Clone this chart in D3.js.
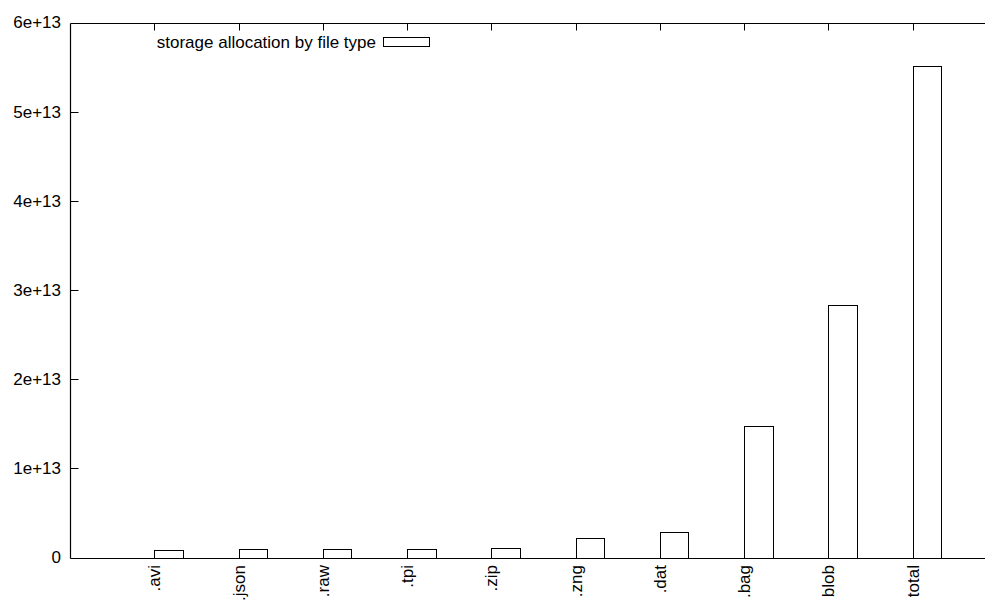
<!DOCTYPE html>
<html>
<head>
<meta charset="utf-8">
<script src="https://cdn.jsdelivr.net/npm/d3@7"></script>
<style>
  html, body { margin: 0; padding: 0; background: #fff; }
  svg { display: block; }
  text { font-family: "Liberation Sans", Arial, sans-serif; fill: #000; }
</style>
</head>
<body>
<svg id="chart" width="985" height="601"></svg>
<script>
// File types and the bytes allocated to each
const categories = [".avi", ".json", ".raw", ".tpi", ".zip", ".zng", ".dat", ".bag", "blob", "total"];
const bytes = [8.1e11, 9.2e11, 9.9e11, 9.9e11, 1.03e12, 2.15e12, 2.83e12, 1.475e13, 2.83e13, 5.51e13];
const yTicks = [0, 1e13, 2e13, 3e13, 4e13, 5e13, 6e13];
const yTickLabels = ["0", "1e+13", "2e+13", "3e+13", "4e+13", "5e+13", "6e+13"];
const legendLabel = "storage allocation by file type";

const svg = d3.select("#chart");
const plotLeft = 70, plotTop = 22.5, plotBottom = 557.5;
const unit = 84.25;
const boxWidth = 0.34;
const fontSize = 17;

// x axis runs from -1 to 11 in category units; the right end runs past the canvas
const x = d3.scaleLinear().domain([-1, 11]).range([plotLeft, plotLeft + 12 * unit]);
const y = d3.scaleLinear().domain([0, 6e13]).range([plotBottom, plotTop]);

const snap = v => Math.round(v) + 0.5;

// bars
svg.append("g").selectAll("rect")
  .data(bytes)
  .join("rect")
  .attr("x", (d, i) => snap(x(i)))
  .attr("y", d => snap(y(d)))
  .attr("width", (d, i) => Math.round(x(i + boxWidth)) - Math.round(x(i)))
  .attr("height", d => snap(y(0)) - snap(y(d)))
  .attr("fill", "none")
  .attr("stroke", "#000")
  .attr("stroke-width", 1);

// frame: left, bottom and top borders
const frame = svg.append("g").attr("stroke", "#000").attr("stroke-width", 1.2);
frame.append("line").attr("x1", snap(plotLeft)).attr("x2", snap(plotLeft)).attr("y1", snap(plotTop)).attr("y2", snap(plotBottom));
frame.append("line").attr("x1", snap(plotLeft)).attr("x2", 985).attr("y1", snap(plotBottom)).attr("y2", snap(plotBottom));
frame.append("line").attr("x1", snap(plotLeft)).attr("x2", 985).attr("y1", snap(plotTop)).attr("y2", snap(plotTop));

// y ticks (inward) and labels
const yAxis = svg.append("g");
yAxis.selectAll("line")
  .data(yTicks.slice(1, -1))
  .join("line")
  .attr("x1", snap(plotLeft)).attr("x2", snap(plotLeft) + 8)
  .attr("y1", d => snap(y(d))).attr("y2", d => snap(y(d)))
  .attr("stroke", "#000");
yAxis.selectAll("text")
  .data(yTicks)
  .join("text")
  .attr("x", 61)
  .attr("y", d => y(d))
  .attr("dy", "0.35em")
  .attr("text-anchor", "end")
  .attr("font-size", fontSize)
  .text((d, i) => yTickLabels[i]);

// x ticks: inward on bottom, mirrored on top
const xAxis = svg.append("g");
xAxis.selectAll("line.b")
  .data(categories)
  .join("line")
  .attr("class", "b")
  .attr("x1", (d, i) => snap(x(i))).attr("x2", (d, i) => snap(x(i)))
  .attr("y1", snap(plotBottom)).attr("y2", snap(plotBottom) - 7)
  .attr("stroke", "#000");
xAxis.selectAll("line.t")
  .data(categories)
  .join("line")
  .attr("class", "t")
  .attr("x1", (d, i) => snap(x(i))).attr("x2", (d, i) => snap(x(i)))
  .attr("y1", snap(plotTop)).attr("y2", snap(plotTop) + 7)
  .attr("stroke", "#000");
xAxis.selectAll("text")
  .data(categories)
  .join("text")
  .attr("transform", (d, i) => `translate(${x(i) + 6},565) rotate(-90)`)
  .attr("text-anchor", "end")
  .attr("font-size", fontSize)
  .text(d => d);

// legend
const legend = svg.append("g");
legend.append("text")
  .attr("x", 376)
  .attr("y", 42)
  .attr("dy", "0.35em")
  .attr("text-anchor", "end")
  .attr("font-size", fontSize)
  .text(legendLabel);
legend.append("rect")
  .attr("x", 383.5).attr("y", 37.5)
  .attr("width", 46).attr("height", 9)
  .attr("fill", "none").attr("stroke", "#000");
</script>
</body>
</html>
